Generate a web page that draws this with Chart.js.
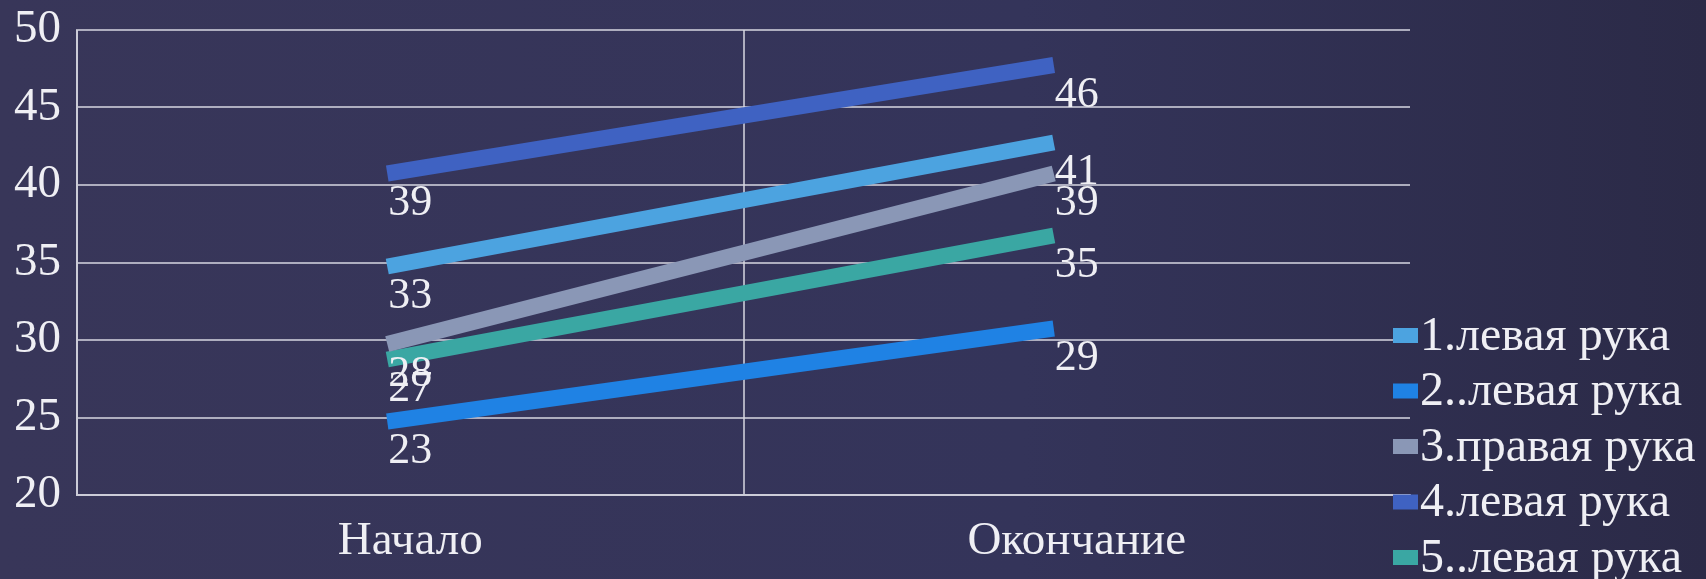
<!DOCTYPE html>
<html>
<head>
<meta charset="utf-8">
<script src="https://cdn.jsdelivr.net/npm/chart.js@4"></script>
<style>
  html, body { margin: 0; padding: 0; }
  body {
    width: 1706px; height: 579px; overflow: hidden;
    background: linear-gradient(90deg, #383659 0%, #34345a 60%, #2b2a47 100%);
  }
  #wrap { position: relative; width: 1706px; height: 579px; }
</style>
</head>
<body>
<div id="wrap"><canvas id="chart" width="1706" height="579"></canvas></div>
<script>
// данные с картинки
const categories = ['Начало', 'Окончание'];
const seriesNames = ['1.левая рука', '2..левая рука', '3.правая рука', '4.левая рука', '5..левая рука'];
const series1 = [33, 41];
const series2 = [23, 29];
const series3 = [28, 39];
const series4 = [39, 46];
const series5 = [27, 35];
const yMin = 20, yMax = 50, yStep = 5;

const colors = ['#4ca3e0', '#1f82e4', '#8a97b6', '#3f62c2', '#3aa7a3'];
const FONT = '"Liberation Serif", "DejaVu Serif", serif';
const TEXT = '#efeff4';
const GRID = 'rgba(215,215,225,0.75)';

// линии в оригинале сдвинуты вверх-влево относительно подписей
const lineShift = { x: -23, y: -27 };

const shiftLines = {
  id: 'shiftLines',
  beforeDatasetsDraw(chart) {
    chart.ctx.save();
    chart.ctx.translate(lineShift.x, lineShift.y);
  },
  afterDatasetsDraw(chart) {
    chart.ctx.restore();
  }
};

const valueLabels = {
  id: 'valueLabels',
  afterDatasetsDraw(chart) {
    const ctx = chart.ctx;
    ctx.save();
    ctx.font = '44px ' + FONT;
    ctx.fillStyle = TEXT;
    ctx.textAlign = 'center';
    ctx.textBaseline = 'middle';
    chart.data.datasets.forEach((ds, i) => {
      chart.getDatasetMeta(i).data.forEach((pt, j) => {
        ctx.fillText(String(ds.data[j]), pt.x, pt.y + 3);
      });
    });
    ctx.restore();
  }
};

const sideLegend = {
  id: 'sideLegend',
  afterDraw(chart) {
    const ctx = chart.ctx;
    ctx.save();
    ctx.font = '48px ' + FONT;
    ctx.textBaseline = 'middle';
    ctx.textAlign = 'left';
    chart.data.datasets.forEach((ds, i) => {
      const y = 335 + i * 55.5;
      ctx.fillStyle = ds.borderColor;
      ctx.fillRect(1393, y - 7, 25, 15);
      ctx.fillStyle = TEXT;
      ctx.fillText(ds.label, 1420, y + 2);
    });
    ctx.restore();
  }
};

const allSeries = [series1, series2, series3, series4, series5];

new Chart(document.getElementById('chart'), {
  type: 'line',
  data: {
    labels: categories,
    datasets: allSeries.map((d, i) => ({
      label: seriesNames[i],
      data: d,
      borderColor: colors[i],
      backgroundColor: colors[i],
      borderWidth: 16,
      borderCapStyle: 'butt',
      pointRadius: 0,
      tension: 0
    }))
  },
  options: {
    responsive: false,
    animation: false,
    devicePixelRatio: 1,
    layout: { padding: { top: 30, right: 296, bottom: 0, left: 0 } },
    plugins: { legend: { display: false }, tooltip: { enabled: false } },
    scales: {
      x: {
        offset: true,
        grid: {
          offset: true,
          drawTicks: false,
          lineWidth: 2,
          color: (c) => (c.type === 'tick' ? GRID : 'rgba(0,0,0,0)')
        },
        border: { display: true, color: GRID, width: 2 },
        ticks: { color: TEXT, font: { family: FONT, size: 47 }, padding: 18 },
        afterFit(scale) {
          scale.height = 84;
          scale.paddingLeft = 0;
          scale.paddingRight = 0;
        }
      },
      y: {
        min: yMin,
        max: yMax,
        grid: { drawTicks: false, lineWidth: 2, color: GRID },
        border: { display: true, color: GRID, width: 2 },
        ticks: {
          stepSize: yStep,
          color: TEXT,
          font: { family: FONT, size: 47 },
          padding: 16
        },
        afterFit(scale) {
          scale.width = 77;
          scale.paddingTop = 0;
          scale.paddingBottom = 0;
        }
      }
    }
  },
  plugins: [shiftLines, valueLabels, sideLegend]
});
</script>
</body>
</html>
